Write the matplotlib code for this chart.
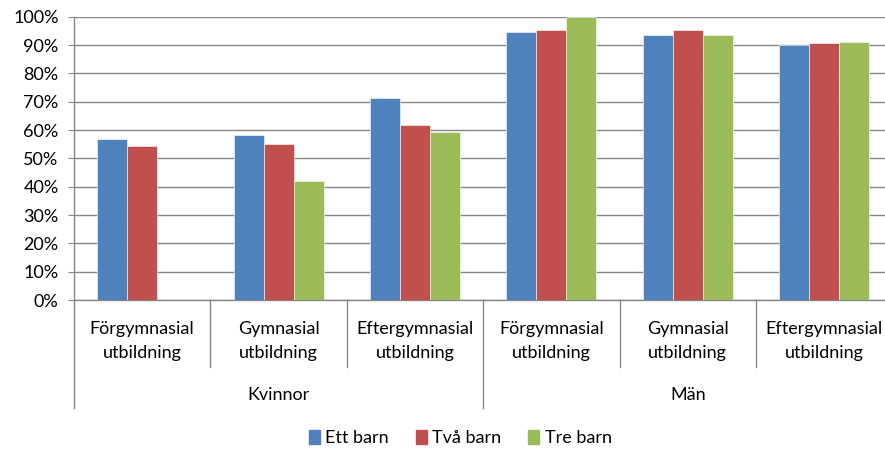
import numpy as np
import matplotlib.pyplot as plt
import matplotlib.transforms as mtransforms
from matplotlib.patches import Patch

plt.rcParams['font.family'] = ['Lato', 'DejaVu Sans']

categories = ["Förgymnasial\nutbildning", "Gymnasial\nutbildning", "Eftergymnasial\nutbildning",
              "Förgymnasial\nutbildning", "Gymnasial\nutbildning", "Eftergymnasial\nutbildning"]
groups = ["Kvinnor", "Män"]
series = ["Ett barn", "Två barn", "Tre barn"]
ett_barn = [56.7, 58.4, 71.3, 94.6, 93.5, 90.1]
tva_barn = [54.5, 55.1, 61.7, 95.2, 95.2, 90.7]
tre_barn = [np.nan, 42.0, 59.3, 99.8, 93.5, 91.1]
colors = ["#4F81BD", "#C0504D", "#9BBB59"]

fig = plt.figure(figsize=(8.85, 4.5), dpi=100)
ax = fig.add_axes([0.0836, 0.3333, 0.9164, 0.6296])

x = np.arange(len(categories)) + 0.5
width = 0.22
for i, vals in enumerate([ett_barn, tva_barn, tre_barn]):
    ax.bar(x + (i - 1) * width, vals, width, color=colors[i], edgecolor="white",
           linewidth=0.4, zorder=3)

fs = 13
ax.set_ylim(0, 100)
ax.set_xlim(0, 5.946)
ax.set_yticks(np.arange(0, 101, 10))
ax.set_yticklabels([f"{v}%" for v in range(0, 101, 10)], fontsize=fs)
ax.yaxis.grid(True, color="#868686", linewidth=1.0, zorder=0)
ax.set_xticks([])
for s in ["top", "right"]:
    ax.spines[s].set_visible(False)
for s in ["left", "bottom"]:
    ax.spines[s].set_color("#868686")
    ax.spines[s].set_linewidth(1.0)
ax.tick_params(axis="y", length=4, color="#868686", pad=7)

trans = mtransforms.blended_transform_factory(ax.transData, ax.transAxes)
for b in range(len(categories) + 1):
    low = -0.381 if b % 3 == 0 else -0.2365
    ax.plot([b, b], [0, low], color="#868686", linewidth=1.0, transform=trans, clip_on=False)
for i, c in enumerate(categories):
    ax.text(x[i], -0.145, c, transform=trans, ha="center", va="center", fontsize=fs,
            linespacing=1.65)
for g, name in enumerate(groups):
    ax.text(g * 3 + 1.5, -0.335, name, transform=trans, ha="center", va="center", fontsize=fs)

handles = [Patch(color=colors[i], label=series[i]) for i in range(3)]
fig.legend(handles=handles, loc="center", bbox_to_anchor=(0.52, 0.027), ncol=3, frameon=False,
           fontsize=fs, handlelength=0.6, handleheight=0.8, handletextpad=0.3, columnspacing=1.5)

fig.savefig("out.png", dpi=100)
